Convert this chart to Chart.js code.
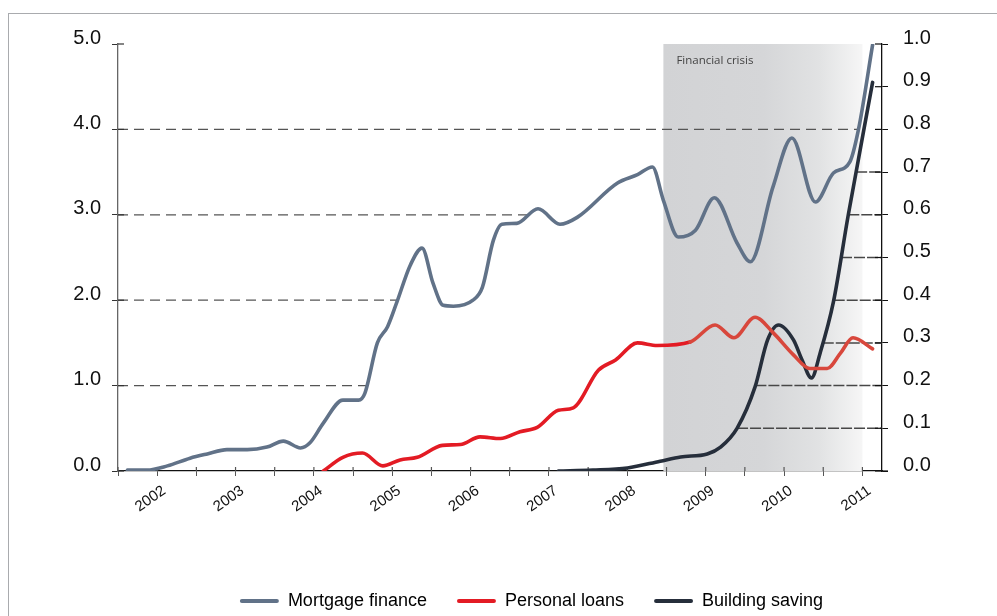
<!DOCTYPE html>
<html>
<head>
<meta charset="utf-8">
<script src="https://cdn.jsdelivr.net/npm/chart.js@4.4.1/dist/chart.umd.min.js"></script>
<style>
  html, body { margin: 0; padding: 0; background: #fff; overflow: hidden; }
  #wrap { position: relative; width: 997px; height: 616px; overflow: hidden; }
  #frame { position: absolute; left: 8px; top: 13px; right: -4px; bottom: -4px;
           border-top: 1px solid #a9abae; border-left: 1px solid #a9abae; }
  #grafico { position: absolute; left: 0; top: 0; }
</style>
</head>
<body>
<div id="wrap">
  <div id="frame"></div>
  <canvas id="grafico" width="997" height="630"></canvas>
</div>
<script>
// dados (anos fracionados no eixo x)
const anosMortgage = [2001.62, 2001.87, 2002.13, 2002.42, 2002.64, 2002.89, 2003.15, 2003.40, 2003.61, 2003.83,
  2003.95, 2004.12, 2004.37, 2004.57, 2004.65, 2004.81, 2004.94, 2005.06, 2005.23, 2005.38,
  2005.52, 2005.65, 2005.78, 2006.03, 2006.15, 2006.29, 2006.40, 2006.59, 2006.86, 2007.14,
  2007.36, 2007.87, 2008.13, 2008.32, 2008.46, 2008.65, 2008.87, 2009.11, 2009.40, 2009.57,
  2009.86, 2010.10, 2010.40, 2010.63, 2010.84, 2010.95, 2011.13];
const mortgage = [0.01, 0.01, 0.06, 0.15, 0.20, 0.25, 0.25, 0.28, 0.35, 0.27,
  0.33, 0.56, 0.83, 0.83, 0.91, 1.50, 1.69, 1.98, 2.41, 2.61,
  2.20, 1.94, 1.93, 2.00, 2.15, 2.70, 2.89, 2.90, 3.07, 2.89,
  2.97, 3.37, 3.47, 3.56, 3.17, 2.74, 2.82, 3.20, 2.67, 2.45,
  3.33, 3.90, 3.15, 3.49, 3.62, 4.00, 4.99];

const anosPessoal = [2004.12, 2004.37, 2004.62, 2004.88, 2005.10, 2005.32, 2005.64, 2005.87, 2006.12, 2006.38,
  2006.63, 2006.85, 2007.12, 2007.31, 2007.63, 2007.85, 2008.13, 2008.38, 2008.80, 2009.12,
  2009.36, 2009.63, 2009.86, 2010.12, 2010.33, 2010.55, 2010.72, 2010.88, 2011.13];
const pessoal = [0.00, 0.16, 0.21, 0.06, 0.13, 0.16, 0.30, 0.31, 0.40, 0.38,
  0.46, 0.51, 0.71, 0.74, 1.18, 1.30, 1.50, 1.47, 1.51, 1.71,
  1.56, 1.80, 1.62, 1.36, 1.20, 1.20, 1.38, 1.56, 1.43];

// eixo da direita
const anosPoupanca = [2007.12, 2007.56, 2008.00, 2008.42, 2008.68, 2009.02, 2009.19, 2009.40, 2009.63, 2009.79,
  2009.93, 2010.12, 2010.23, 2010.35, 2010.46, 2010.63, 2010.82, 2011.13];
const poupanca = [0.000, 0.002, 0.007, 0.023, 0.033, 0.040, 0.056, 0.100, 0.197, 0.307,
  0.342, 0.307, 0.260, 0.218, 0.276, 0.396, 0.600, 0.910];

const rotulos = ["Mortgage finance", "Personal loans", "Building saving"];
const cores = ["#617288", "#e31b24", "#262e3b"];
const corVermelhoCrise = "#d8473c";

const gradeEsq = [1, 2, 3, 4];
const gradeDir = [0.1, 0.2, 0.3, 0.4, 0.5, 0.6, 0.7];

const crisisInicio = 2008.46;
const crisisFim = 2011.0;
const crisisTexto = "Financial crisis";

const fonte = "'Liberation Sans', Arial, sans-serif";

const pontos = (xs, ys) => xs.map((x, i) => ({ x, y: ys[i] }));

function primeiroCruzamento(pts, py) {
  for (let i = 1; i < pts.length; i++) {
    const p = pts[i - 1], q = pts[i];
    if ((p.y - py) * (q.y - py) <= 0 && p.y !== q.y) return p.x + (py - p.y) / (q.y - p.y) * (q.x - p.x);
  }
  return null;
}

function ultimoCruzamento(pts, py) {
  for (let i = pts.length - 1; i > 0; i--) {
    const p = pts[i - 1], q = pts[i];
    if ((p.y - py) * (q.y - py) <= 0 && p.y !== q.y) return p.x + (py - p.y) / (q.y - p.y) * (q.x - p.x);
  }
  return null;
}

const fundoCrise = {
  id: "fundoCrise",
  beforeDatasetsDraw(chart) {
    const { ctx, chartArea: a, scales: { x, y, y1 } } = chart;
    ctx.save();

    // faixa da crise
    const x0 = x.getPixelForValue(crisisInicio), x1 = x.getPixelForValue(crisisFim);
    const grad = ctx.createLinearGradient(x0, 0, x1, 0);
    grad.addColorStop(0, "#d2d3d5");
    grad.addColorStop(0.5, "#d5d6d8");
    grad.addColorStop(0.78, "#e1e2e3");
    grad.addColorStop(1, "#f6f6f6");
    ctx.fillStyle = grad;
    ctx.fillRect(x0, a.top, x1 - x0, a.bottom - a.top);
    ctx.fillStyle = "#444";
    ctx.font = "11.5px 'Open Sans', sans-serif";
    ctx.textBaseline = "alphabetic";
    ctx.fillText(crisisTexto, x0 + 13, a.top + 20);

    // grade tracejada da esquerda, até a curva
    const ptsM = chart.getDatasetMeta(0).data;
    ctx.strokeStyle = "#555";
    ctx.lineWidth = 1.3;
    ctx.setLineDash([10, 6]);
    gradeEsq.forEach(v => {
      const py = y.getPixelForValue(v);
      const cx = primeiroCruzamento(ptsM, py);
      if (cx == null) return;
      ctx.beginPath(); ctx.moveTo(a.left, py); ctx.lineTo(cx, py); ctx.stroke();
    });

    // grade da direita, a partir da curva
    const ptsB = chart.getDatasetMeta(2).data;
    ctx.strokeStyle = "#474747";
    ctx.lineWidth = 1.5;
    ctx.setLineDash([11, 2]);
    gradeDir.forEach(v => {
      const py = y1.getPixelForValue(v);
      const cx = ultimoCruzamento(ptsB, py);
      if (cx == null) return;
      ctx.beginPath(); ctx.moveTo(cx, py); ctx.lineTo(a.right, py); ctx.stroke();
    });

    // marcas internas dos eixos
    ctx.setLineDash([]);
    ctx.lineWidth = 1.2;
    ctx.strokeStyle = "#333";
    y.ticks.forEach(t => {
      const py = y.getPixelForValue(t.value);
      ctx.beginPath(); ctx.moveTo(a.left, py); ctx.lineTo(a.left + 6, py); ctx.stroke();
    });
    ctx.strokeStyle = "#111";
    y1.ticks.forEach(t => {
      const py = y1.getPixelForValue(t.value);
      ctx.beginPath(); ctx.moveTo(a.right - 7, py); ctx.lineTo(a.right, py); ctx.stroke();
    });
    ctx.strokeStyle = "#555";
    x.ticks.forEach(t => {
      const px = x.getPixelForValue(t.value);
      ctx.beginPath(); ctx.moveTo(px, a.bottom - 4); ctx.lineTo(px, a.bottom); ctx.stroke();
    });
    ctx.strokeStyle = "#111";
    ctx.beginPath(); ctx.moveTo(a.right, a.bottom); ctx.lineTo(a.right + 6, a.bottom); ctx.stroke();
    ctx.restore();
  }
};

const serie = (i, data, eixo) => ({
  label: rotulos[i],
  data,
  yAxisID: eixo,
  borderColor: cores[i],
  backgroundColor: cores[i],
  borderWidth: 3.6,
  pointRadius: 0,
  fill: false,
  cubicInterpolationMode: "monotone",
  borderCapStyle: "round",
  borderJoinStyle: "round"
});

const dsPessoal = serie(1, pontos(anosPessoal, pessoal), "y");
dsPessoal.segment = {
  borderColor: (c) => c.p0.parsed.x >= crisisInicio ? corVermelhoCrise : undefined
};

new Chart(document.getElementById("grafico"), {
  type: "line",
  data: {
    datasets: [
      serie(0, pontos(anosMortgage, mortgage), "y"),
      dsPessoal,
      serie(2, pontos(anosPoupanca, poupanca), "y1")
    ]
  },
  options: {
    responsive: false,
    animation: false,
    layout: { padding: { left: 70, right: 4, top: 44, bottom: 10 } },
    plugins: {
      tooltip: { enabled: false },
      legend: {
        position: "bottom",
        labels: {
          boxWidth: 39,
          boxHeight: 4,
          padding: 30,
          color: "#111",
          useBorderRadius: true,
          font: { family: fonte, size: 18 },
          generateLabels: (chart) => chart.data.datasets.map((ds, i) => ({
            text: ds.label,
            fillStyle: ds.borderColor,
            strokeStyle: ds.borderColor,
            lineWidth: 0,
            borderRadius: 2,
            hidden: false,
            datasetIndex: i
          }))
        }
      }
    },
    scales: {
      x: {
        type: "linear",
        min: 2001.5,
        max: 2011.25,
        afterFit: (s) => { s.height = 91; },
        border: { display: true, color: "#111", width: 1.3 },
        grid: { drawOnChartArea: false, drawTicks: true, tickLength: 5, color: "#555" },
        ticks: {
          stepSize: 0.5,
          autoSkip: false,
          includeBounds: false,
          minRotation: 35,
          maxRotation: 35,
          padding: 6,
          labelOffset: 7,
          color: "#111",
          font: { family: fonte, size: 15 },
          callback: (v) => Number.isInteger(v) ? String(v) : ""
        }
      },
      y: {
        position: "left",
        min: 0,
        max: 5,
        afterFit: (s) => { s.width = 48; },
        border: { display: true, color: "#666", width: 1.3 },
        grid: { drawOnChartArea: false, drawTicks: true, tickLength: 6, color: "#333" },
        ticks: {
          stepSize: 1,
          padding: 11,
          labelOffset: -6,
          color: "#111",
          font: { family: fonte, size: 20 },
          callback: (v) => Number(v).toFixed(1)
        }
      },
      y1: {
        position: "right",
        min: 0,
        max: 1,
        afterFit: (s) => { s.width = 111; },
        border: { display: true, color: "#111", width: 1.3 },
        grid: { drawOnChartArea: false, drawTicks: true, tickLength: 6, color: "#111" },
        ticks: {
          stepSize: 0.1,
          padding: 15,
          labelOffset: -6,
          color: "#111",
          font: { family: fonte, size: 20 },
          callback: (v) => Number(v).toFixed(1)
        }
      }
    }
  },
  plugins: [fundoCrise]
});
</script>
</body>
</html>
